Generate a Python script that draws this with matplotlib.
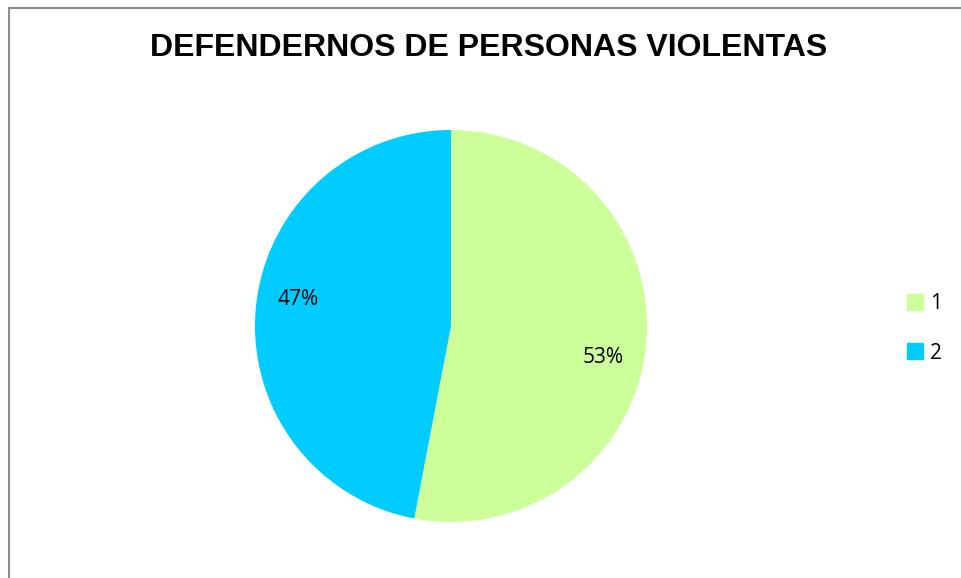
import numpy as np
import matplotlib.pyplot as plt
from matplotlib.patches import Rectangle
from matplotlib.lines import Line2D

# chart data
labels = ['1', '2']
values = [53, 47]
colors = ['#CCFF99', '#00CCFF']
title = 'DEFENDERNOS DE PERSONAS VIOLENTAS'

W, H = 961, 578
fig = plt.figure(figsize=(W / 100, H / 100), dpi=100)

# chart area border (only left and top visible)
fig.add_artist(Rectangle((8.5 / W, -0.05), 1.2, (H - 7.5) / H + 0.05,
                         transform=fig.transFigure, fill=False,
                         edgecolor='#8c8c8c', linewidth=1.5))

# pie centred at (451, 326) px with radius 196 px
cx, cy, r = 451, 326, 196
ax = fig.add_axes([(cx - r) / W, (H - cy - r) / H, 2 * r / W, 2 * r / H])
wedges, texts, autotexts = ax.pie(values, colors=colors, startangle=90,
                                  counterclock=False, autopct='%1.0f%%',
                                  pctdistance=0.79,
                                  textprops=dict(fontsize=15, family='Open Sans'))
ax.set_xlim(-1, 1)
ax.set_ylim(-1, 1)
ax.set_aspect('equal')

# Excel "best fit" label spots
for t, ang in zip(autotexts, [-11.6, 170]):
    a = np.deg2rad(ang)
    t.set_position((0.79 * np.cos(a), 0.79 * np.sin(a)))

fig.text(489 / W, 1 - 48 / H, title, ha='center', va='center',
         fontsize=23, fontweight='bold', family='Liberation Sans')

handles = [Line2D([], [], marker='s', linestyle='none', markersize=11,
                  markerfacecolor=c, markeredgecolor=c) for c in colors]
fig.legend(handles, labels, loc='center left',
           bbox_to_anchor=(884 / W, 1 - 328.5 / H), frameon=False,
           prop=dict(family='Open Sans', size=15), handletextpad=0.1,
           labelspacing=1.35, handlelength=1.2)

fig.savefig('out.png', dpi=100)
